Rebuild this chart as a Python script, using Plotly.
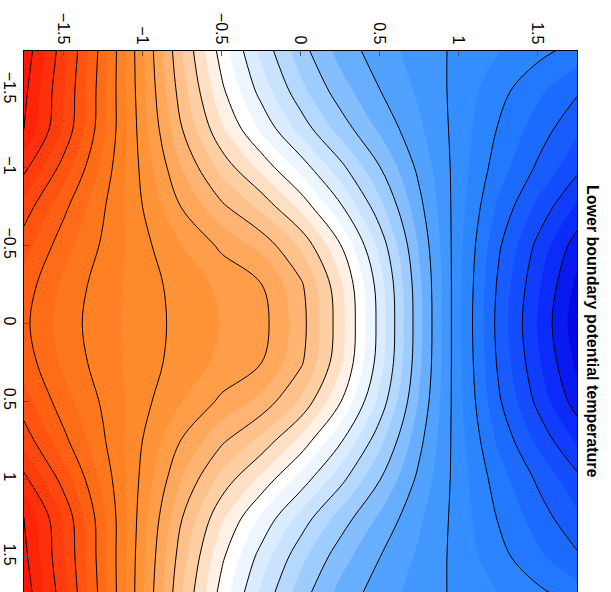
import plotly.graph_objects as go

# grid coordinates (data units)
x_vals = [-1.75, -1.5, -1.25, -1.0, -0.75, -0.5, -0.25, 0.0, 0.25, 0.5, 0.75, 1.0, 1.25, 1.5, 1.75]
y_vals = [-1.75, -1.5, -1.25, -1.0, -0.75, -0.5, -0.25, 0.0, 0.25, 0.5, 0.75, 1.0, 1.25, 1.5, 1.75]

# potential temperature values (rows follow y_vals)
row_m175 = [15.36, 13.70, 11.74, 9.57, 7.50, 5.78, 4.37, 3.21, 2.32, 1.73, 1.29, 0.88, 0.52, 0.16, -0.20]
row_m150 = [15.15, 13.54, 11.67, 9.63, 7.71, 6.11, 4.80, 3.66, 2.72, 2.01, 1.41, 0.83, 0.19, -0.38, -0.92]
row_m125 = [15.00, 13.43, 11.63, 9.72, 8.01, 6.59, 5.42, 4.31, 3.29, 2.41, 1.59, 0.80, -0.03, -0.73, -1.39]
row_m100 = [14.15, 12.79, 11.35, 9.86, 8.48, 7.33, 6.37, 5.31, 4.18, 3.03, 1.87, 0.77, -0.25, -1.08, -1.86]
row_m075 = [13.29, 12.14, 11.07, 10.00, 8.97, 8.11, 7.37, 6.37, 5.10, 3.68, 2.16, 0.72, -0.58, -1.62, -2.58]
row_m050 = [12.71, 11.71, 10.92, 10.16, 9.50, 8.90, 8.35, 7.43, 6.05, 4.35, 2.45, 0.67, -0.90, -2.13, -3.26]
row_m025 = [12.29, 11.39, 10.75, 10.24, 9.78, 9.38, 9.02, 8.10, 6.63, 4.75, 2.63, 0.64, -1.07, -2.40, -3.62]
row_p000 = [12.13, 11.27, 10.70, 10.25, 9.84, 9.48, 9.20, 8.22, 6.74, 4.83, 2.67, 0.63, -1.15, -2.53, -3.80]
row_p025 = [12.29, 11.39, 10.75, 10.24, 9.78, 9.38, 9.02, 8.10, 6.63, 4.75, 2.63, 0.64, -1.07, -2.40, -3.62]
row_p050 = [12.71, 11.71, 10.92, 10.16, 9.50, 8.90, 8.35, 7.43, 6.05, 4.35, 2.45, 0.67, -0.90, -2.13, -3.26]
row_p075 = [13.29, 12.14, 11.07, 10.00, 8.97, 8.11, 7.37, 6.37, 5.10, 3.68, 2.16, 0.72, -0.58, -1.62, -2.58]
row_p100 = [14.15, 12.79, 11.35, 9.86, 8.48, 7.33, 6.37, 5.31, 4.18, 3.03, 1.87, 0.77, -0.25, -1.08, -1.86]
row_p125 = [15.00, 13.43, 11.63, 9.72, 8.01, 6.59, 5.42, 4.31, 3.29, 2.41, 1.59, 0.80, -0.03, -0.73, -1.39]
row_p150 = [15.15, 13.54, 11.67, 9.63, 7.71, 6.11, 4.80, 3.66, 2.72, 2.01, 1.41, 0.83, 0.19, -0.38, -0.92]
row_p175 = [15.36, 13.70, 11.74, 9.57, 7.50, 5.78, 4.37, 3.21, 2.32, 1.73, 1.29, 0.88, 0.52, 0.16, -0.20]

z_rows = [row_m175, row_m150, row_m125, row_m100, row_m075, row_m050, row_m025, row_p000,
          row_p025, row_p050, row_p075, row_p100, row_p125, row_p150, row_p175]

tick_vals = [-1.5, -1, -0.5, 0, 0.5, 1, 1.5]
tick_text = ["\u22121.5", "\u22121", "\u22120.5", "0", "0.5", "1", "1.5"]
title_text = "Lower boundary potential temperature"

Z_MIN, Z_MAX = -4.0, 16.0
color_stops = [
    (-4.0, "#0000E0"), (-3.0, "#0A22F5"), (-2.0, "#1244FF"), (-1.0, "#1A62FF"),
    (0.0, "#2580FF"), (1.0, "#3A92FF"), (2.0, "#58A6FF"), (3.0, "#92C6FF"),
    (4.0, "#C0DEFF"), (5.0, "#E4F1FF"), (5.75, "#FFFFFF"), (6.5, "#FFEADA"),
    (7.0, "#FFD6B0"), (8.0, "#FFBA80"), (9.0, "#FFA250"), (10.0, "#FF8E30"),
    (11.0, "#FF7C1E"), (12.0, "#FF6614"), (13.0, "#FF4E10"), (14.0, "#FF360C"),
    (15.0, "#FF1E06"), (16.0, "#FF0000"),
]
colorscale = [[(v - Z_MIN) / (Z_MAX - Z_MIN), c] for v, c in color_stops]

fig = go.Figure()
fig.add_trace(go.Contour(
    x=x_vals, y=y_vals, z=z_rows,
    colorscale=colorscale, zmin=Z_MIN, zmax=Z_MAX, zauto=False,
    contours=dict(coloring="fill", start=Z_MIN, end=Z_MAX, size=0.5, showlines=False),
    line=dict(width=0, smoothing=1.0),
    showscale=False, hoverinfo="skip",
))
fig.add_trace(go.Contour(
    x=x_vals, y=y_vals, z=z_rows,
    contours=dict(coloring="none", start=-3, end=15, size=1),
    line=dict(color="black", width=1, smoothing=1.0),
    showscale=False, hoverinfo="skip",
))

axis_font = dict(family="Liberation Sans, Arial, sans-serif", size=16, color="black")
fig.update_layout(
    width=611, height=592,
    margin=dict(l=24, r=34, t=51, b=0, pad=0),
    paper_bgcolor="white", plot_bgcolor="white",
    showlegend=False,
    xaxis=dict(range=[-1.75, 1.75], side="top", tickvals=tick_vals, ticktext=tick_text,
               tickangle=90, ticks="inside", ticklen=5, tickcolor="#555",
               showline=True, linecolor="black", linewidth=1, mirror=False,
               showgrid=False, zeroline=False, tickfont=axis_font),
    yaxis=dict(range=[1.725, -1.75], tickvals=tick_vals, ticktext=tick_text,
               tickangle=90, ticks="inside", ticklen=5, tickcolor="#555",
               showline=True, linecolor="black", linewidth=1, mirror=True,
               showgrid=False, zeroline=False, tickfont=axis_font),
    annotations=[dict(text="<b>" + title_text + "</b>", xref="paper", yref="paper",
                      x=1.029, y=0.4824, xanchor="center", yanchor="middle",
                      textangle=90, showarrow=False,
                      font=dict(family="Liberation Sans, Arial, sans-serif", size=16, color="black"))],
)

fig.write_html("out.html", config={"displayModeBar": False},
               post_script="document.body.style.margin='0px';")
